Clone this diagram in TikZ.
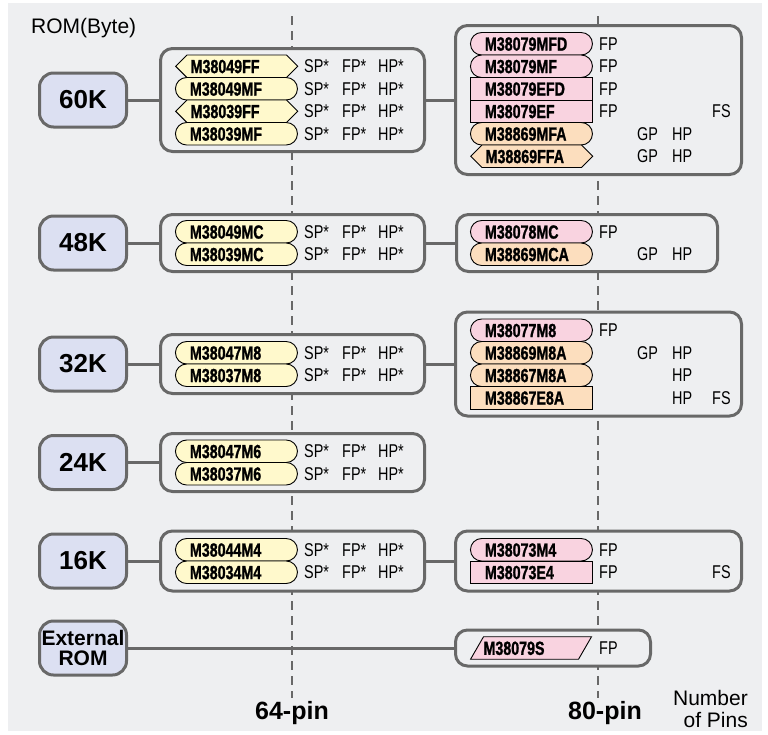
\documentclass[tikz,border=0pt]{standalone}
\usepackage{fontspec}
\setmainfont{Liberation Sans}
\newfontfamily\narrowfont[FakeStretch=0.78]{Liberation Sans}
\newfontfamily\chipfont[FakeStretch=0.75,FakeBold=1.2]{Liberation Sans Bold}
\usetikzlibrary{shapes.misc,shapes.symbols,shapes.geometric}

\definecolor{pagebg}{RGB}{238,239,241}
\definecolor{romfill}{RGB}{220,224,242}
\definecolor{framegray}{RGB}{104,104,104}
\definecolor{chipyellow}{RGB}{255,249,204}
\definecolor{chippink}{RGB}{249,211,224}
\definecolor{chippeach}{RGB}{252,222,190}

\tikzset{
  rombox/.style={draw=framegray,line width=3pt,fill=romfill,rounded corners=14pt,minimum width=87pt,minimum height=54pt,inner sep=0pt,align=center,font=\bfseries\fontsize{26}{28}\selectfont},
  groupbox/.style={draw=framegray,line width=3pt,fill=pagebg,rounded corners=12pt,inner sep=0pt},
  joinline/.style={draw=framegray,line width=3pt},
  pinline/.style={draw=framegray,line width=1.5pt,dash pattern=on 9pt off 6pt},
  chip/.style={draw=black,line width=0.9pt,anchor=west,inner ysep=4.4pt,text height=13.7pt,text depth=0pt,align=left,font=\chipfont\fontsize{19}{19}\selectfont},
  pill/.style={chip,rounded rectangle,inner xsep=0pt,text width=93pt,minimum width=122pt},
  hexchip/.style={chip,signal,signal to=west and east,signal pointer angle=90,inner xsep=3.75pt,text width=92pt},
  boxchip/.style={chip,rectangle,inner xsep=14.5pt,text width=93pt},
  slantchip/.style={chip,trapezium,trapezium left angle=60,trapezium right angle=120,inner xsep=0pt,text width=95pt},
  partnote/.style={anchor=west,inner sep=0pt,text height=12.5pt,text depth=0pt,font=\narrowfont\fontsize{18.5}{19}\selectfont},
  pinlabel/.style={font=\bfseries\fontsize{25}{27}\selectfont}
}

\begin{document}
\begin{tikzpicture}[x=1pt,y=-1pt]
\useasboundingbox (0,0) rectangle (768,734);
\fill[pagebg] (8,3) rectangle (762,731);

% pin count guides
\coordinate (p64top) at (292,16);
\coordinate (p64bot) at (292,698);
\coordinate (p80top) at (598,16);
\coordinate (p80bot) at (598,698);
\draw[pinline] (p64top) -- (p64bot);
\draw[pinline] (p80top) -- (p80bot);

\node[anchor=west,inner sep=0pt,font=\fontsize{21}{22}\selectfont] (romtitle) at (31,28) {ROM(Byte)};

% ROM sizes
\node[rombox] (r60) at (83,100) {60K};
\node[rombox] (r48) at (83,243) {48K};
\node[rombox] (r32) at (83,364) {32K};
\node[rombox] (r24) at (83,462.5) {24K};
\node[rombox] (r16) at (83,561) {16K};
\node[rombox,font=\bfseries\fontsize{21}{20}\selectfont] (rext) at (83,648) {External\\ROM};

% groups
\node[groupbox,minimum width=264pt,minimum height=103pt] (g60a) at (292.5,100) {};
\node[groupbox,minimum width=286pt,minimum height=149pt] (g60b) at (598.5,100) {};
\node[groupbox,minimum width=264pt,minimum height=57pt] (g48a) at (292.5,243) {};
\node[groupbox,minimum width=261pt,minimum height=57pt] (g48b) at (587,243) {};
\node[groupbox,minimum width=264pt,minimum height=59pt] (g32a) at (292.5,364) {};
\node[groupbox,minimum width=286pt,minimum height=104pt] (g32b) at (598.5,364) {};
\node[groupbox,minimum width=264pt,minimum height=58pt] (g24a) at (292.5,462.5) {};
\node[groupbox,minimum width=264pt,minimum height=60pt] (g16a) at (292.5,561) {};
\node[groupbox,minimum width=286pt,minimum height=60pt] (g16b) at (598.5,561) {};
\node[groupbox,minimum width=195pt,minimum height=36pt] (gext) at (553,648) {};

\draw[joinline] (r60) -- (g60a);
\draw[joinline] (g60a) -- (g60b);
\draw[joinline] (r48) -- (g48a);
\draw[joinline] (g48a) -- (g48b);
\draw[joinline] (r32) -- (g32a);
\draw[joinline] (g32a) -- (g32b);
\draw[joinline] (r24) -- (g24a);
\draw[joinline] (r16) -- (g16a);
\draw[joinline] (g16a) -- (g16b);
\draw[joinline] (rext) -- (gext);

% 64-pin parts
\foreach \lbl/\shp/\y [count=\i] in {M38049FF/hexchip/66.25,M38049MF/pill/88.75,M38039FF/hexchip/111.25,M38039MF/pill/133.75,
    M38049MC/pill/231.75,M38039MC/pill/254.25,M38047M8/pill/352.75,M38037M8/pill/375.25,
    M38047M6/pill/451.25,M38037M6/pill/473.75,M38044M4/pill/549.75,M38034M4/pill/572.25} {
  \node[\shp,fill=chipyellow] (lchip\i) at (175,\y) {\lbl};
  \node[partnote] (lsp\i) at (304,\y) {SP*};
  \node[partnote] (lfp\i) at (342,\y) {FP*};
  \node[partnote] (lhp\i) at (378,\y) {HP*};
}

% 80-pin parts
\foreach \lbl/\shp/\clr/\y [count=\i] in {M38079MFD/pill/chippink/43.75,M38079MF/pill/chippink/66.25,
    M38079EFD/boxchip/chippink/88.75,M38079EF/boxchip/chippink/111.25,
    M38869MFA/pill/chippeach/133.75,M38869FFA/hexchip/chippeach/156.25,
    M38078MC/pill/chippink/231.75,M38869MCA/pill/chippeach/254.25,
    M38077M8/pill/chippink/330.25,M38869M8A/pill/chippeach/352.75,
    M38867M8A/pill/chippeach/375.25,M38867E8A/boxchip/chippeach/397.75,
    M38073M4/pill/chippink/549.75,M38073E4/boxchip/chippink/572.25} {
  \node[\shp,fill=\clr] (rchip\i) at (470,\y) {\lbl};
}
\node[slantchip,fill=chippink] (rchipext) at (476.5,648) {M38079S};
\foreach \y [count=\i] in {43.75,66.25,88.75,111.25,231.75,330.25,549.75,572.25,648}
  \node[partnote] (rfp\i) at (599,\y) {FP};
\foreach \y [count=\i] in {133.75,156.25,254.25,352.75}
  \node[partnote] (rgp\i) at (637,\y) {GP};
\foreach \y [count=\i] in {133.75,156.25,254.25,352.75,375.25,397.75}
  \node[partnote] (rhp\i) at (672,\y) {HP};
\foreach \y [count=\i] in {111.25,397.75,572.25}
  \node[partnote] (rfs\i) at (712,\y) {FS};

% axis
\node[pinlabel] (pin64) at (292,713) {64-pin};
\node[pinlabel] (pin80) at (605,713) {80-pin};
\node[anchor=east,align=right,inner sep=0pt,font=\fontsize{21}{22}\selectfont] (pincount) at (748,709) {Number\\of Pins};
\end{tikzpicture}
\end{document}
